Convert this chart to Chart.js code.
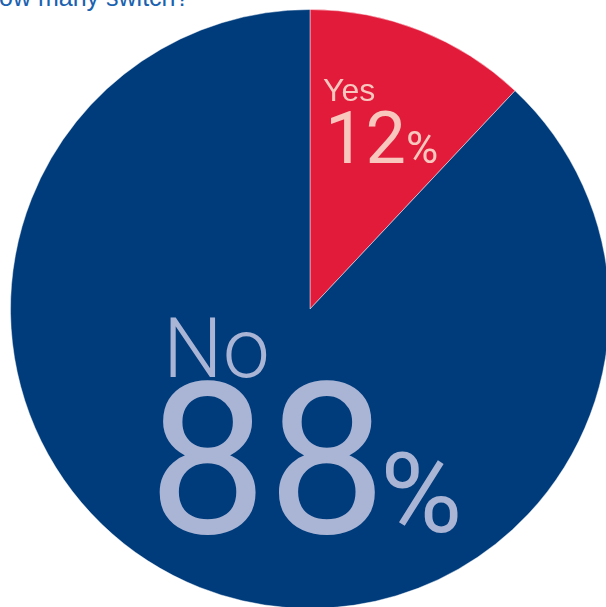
<!DOCTYPE html>
<html>
<head>
<meta charset="utf-8">
<script src="https://cdn.jsdelivr.net/npm/chart.js@4/dist/chart.umd.min.js"></script>
<style>
  html, body { margin: 0; padding: 0; background: #fff; overflow: hidden; }
  body { width: 606px; height: 607px; position: relative; }
  #title { position: absolute; left: -19px; top: -17px; font: 25px "Liberation Sans", Arial, sans-serif; color: #1a62b0; white-space: nowrap; }
  #wrap { position: absolute; left: 0; top: -1px; width: 620px; height: 620px; }
</style>
</head>
<body>
<div id="title">How many switch?</div>
<div id="wrap"><canvas id="pie"></canvas></div>
<script>
const labels = ["Yes", "No"];
const values = [12, 88];
const colors = ["#e31b3a", "#003c7c"];
const textColors = ["#f8c8bf", "#aab5d5"];

// big labels drawn inside slices, placed relative to the pie centre
const sliceLabels = {
  id: "sliceLabels",
  afterDatasetsDraw(chart) {
    const ctx = chart.ctx;
    const arcs = chart.getDatasetMeta(0).data;
    const cx = arcs[0].x, cy = arcs[0].y;
    ctx.save();
    ctx.textBaseline = "alphabetic";
    ctx.textAlign = "left";

    // Yes
    ctx.fillStyle = textColors[0];
    ctx.font = "32px 'Liberation Sans', Arial, sans-serif";
    ctx.fillText(labels[0], cx + 13, cy - 208);
    ctx.font = "72px Roboto, 'Liberation Sans', sans-serif";
    ctx.fillText(values[0], cx + 15, cy - 146);
    let w = ctx.measureText(String(values[0])).width;
    ctx.font = "44px Roboto, 'Liberation Sans', sans-serif";
    ctx.fillText("%", cx + 15 + w, cy - 146);

    // No
    ctx.fillStyle = textColors[1];
    ctx.font = "300 84px Roboto, 'Liberation Sans', sans-serif";
    ctx.fillText(labels[1], cx - 147, cy + 68);
    ctx.font = "212px Roboto, 'Liberation Sans', sans-serif";
    ctx.fillText(values[1], cx - 162, cy + 224);
    w = ctx.measureText(String(values[1])).width;
    ctx.font = "112px Roboto, 'Liberation Sans', sans-serif";
    ctx.fillText("%", cx - 162 + w - 6, cy + 223);
    ctx.restore();
  }
};

new Chart("pie", {
  type: "pie",
  data: {
    labels: labels,
    datasets: [{
      data: values,
      backgroundColor: colors,
      borderColor: "rgba(255,255,255,0.45)",
      borderWidth: 1
    }]
  },
  options: {
    responsive: true,
    maintainAspectRatio: false,
    animation: false,
    layout: { padding: 10 },
    plugins: {
      legend: { display: false },
      tooltip: { enabled: false }
    }
  },
  plugins: [sliceLabels]
});
</script>
</body>
</html>
